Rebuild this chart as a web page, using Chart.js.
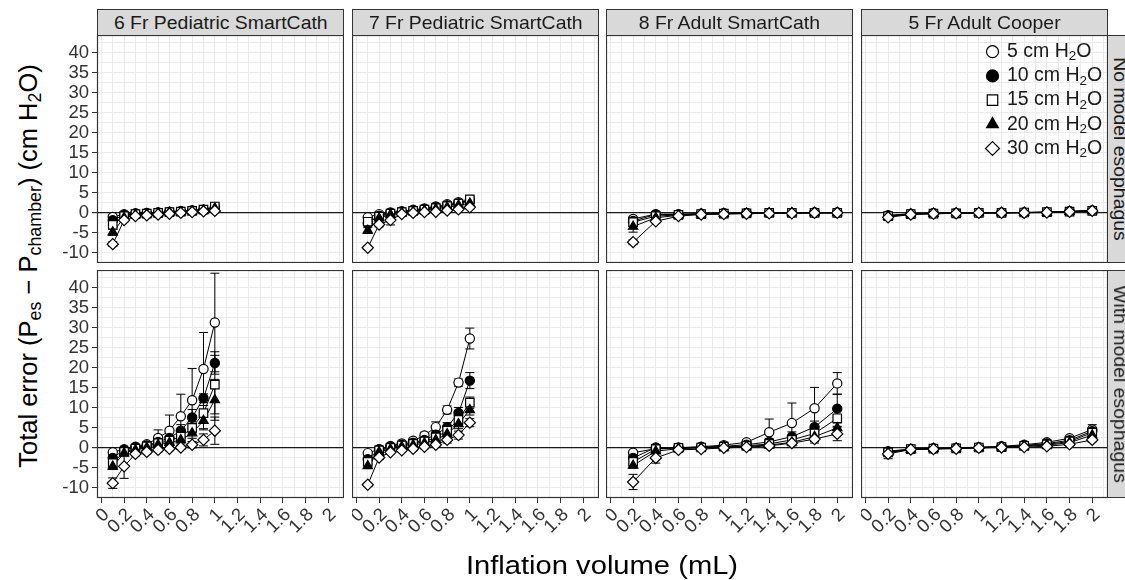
<!DOCTYPE html>
<html>
<head>
<meta charset="utf-8">
<script src="https://cdn.jsdelivr.net/npm/chart.js@4.4.1/dist/chart.umd.min.js"></script>
<style>
  body { margin: 0; width: 1125px; height: 580px; overflow: hidden; position: relative; background: #fff;
         font-family: "Liberation Sans", Arial, sans-serif; }
  canvas { position: absolute; }
  .strip { position: absolute; background: #d9d9d9; border: 1px solid #333; box-sizing: border-box;
           color: #1a1a1a; font-size: 18.5px; display: flex; align-items: center; justify-content: center;
           white-space: nowrap; }
  .strip span { display: inline-block; transform: scaleX(1.05); }
  .strip.side span { transform: rotate(90deg) scaleX(1.05); }
  .title { position: absolute; white-space: nowrap; color: #000; }
  sub { font-size: 0.7em; vertical-align: -0.25em; line-height: 0; }
</style>
</head>
<body>
<script>
// facet labels
var colLabels = ['6 Fr Pediatric SmartCath', '7 Fr Pediatric SmartCath', '8 Fr Adult SmartCath', '5 Fr Adult Cooper']
var rowLabels = ['No model esophagus', 'With model esophagus']
var pressures = ['5', '10', '15', '20', '30']   // cm H2O

// inflation volumes (mL)
var volPed = [0.1, 0.2, 0.3, 0.4, 0.5, 0.6, 0.7, 0.8, 0.9, 1.0]
var volAdult = [0.2, 0.4, 0.6, 0.8, 1.0, 1.2, 1.4, 1.6, 1.8, 2.0]

// axis breaks
var xBreaks = [0, 0.2, 0.4, 0.6, 0.8, 1, 1.2, 1.4, 1.6, 1.8, 2]
var yBreaks = [-10, -5, 0, 5, 10, 15, 20, 25, 30, 35, 40]

// mean total error, one row per pressure (5, 10, 15, 20, 30)
var ped6None = [
  [-1.0, -0.3, -0.1, 0.0, 0.1, 0.3, 0.4, 0.6, 0.8, 1.2],
  [-1.8, -0.5, -0.2, -0.1, 0.1, 0.2, 0.4, 0.6, 0.8, 1.4],
  [-3.0, -0.8, -0.3, -0.2, 0.0, 0.2, 0.3, 0.5, 0.8, 1.6],
  [-4.8, -1.2, -0.5, -0.3, -0.1, 0.1, 0.2, 0.4, 0.6, 1.2],
  [-7.8, -1.8, -0.8, -0.6, -0.4, -0.2, 0.0, 0.2, 0.4, 0.5]]
var ped7None = [
  [-1.1, -0.3, 0.1, 0.4, 0.8, 1.1, 1.6, 2.2, 2.7, 3.2],
  [-2.6, -0.7, 0.0, 0.3, 0.6, 1.0, 1.4, 1.9, 2.4, 2.9],
  [-2.2, -0.9, -0.2, 0.2, 0.5, 0.8, 1.2, 1.7, 2.3, 3.4],
  [-4.4, -1.3, -0.4, 0.0, 0.3, 0.6, 1.0, 1.4, 1.9, 2.4],
  [-8.7, -2.9, -1.8, -0.3, 0.0, 0.2, 0.3, 0.6, 0.9, 1.4]]
var adult8None = [
  [-1.5, -0.3, -0.3, -0.2, -0.1, 0.0, 0.0, 0.0, 0.1, 0.1],
  [-2.0, -0.4, -0.4, -0.2, -0.1, 0.0, 0.0, 0.0, 0.1, 0.1],
  [-2.3, -0.8, -0.5, -0.3, -0.2, -0.1, 0.0, 0.0, 0.0, 0.0],
  [-3.4, -1.2, -0.6, -0.3, -0.2, -0.1, -0.1, 0.0, 0.0, 0.0],
  [-7.3, -2.1, -0.8, -0.4, -0.3, -0.2, -0.1, -0.1, 0.0, 0.0]]
var cooperNone = [
  [-0.6, -0.2, -0.1, 0.0, 0.0, 0.1, 0.1, 0.2, 0.4, 0.6],
  [-0.7, -0.3, -0.1, -0.1, 0.0, 0.0, 0.1, 0.2, 0.4, 0.6],
  [-0.8, -0.3, -0.2, -0.1, 0.0, 0.0, 0.1, 0.2, 0.3, 0.5],
  [-0.9, -0.3, -0.2, -0.1, 0.0, 0.0, 0.1, 0.1, 0.3, 0.5],
  [-1.1, -0.4, -0.2, -0.1, 0.0, 0.0, 0.0, 0.1, 0.3, 0.5]]
var ped6With = [
  [-1.1, -0.3, 0.3, 0.9, 2.5, 4.3, 7.9, 11.9, 19.7, 31.3],
  [-2.5, -0.5, 0.1, 0.6, 1.5, 2.5, 4.3, 7.6, 12.4, 21.2],
  [-3.8, -1.0, -0.2, 0.4, 1.2, 1.8, 2.8, 5.0, 8.7, 15.8],
  [-4.6, -1.3, -0.5, 0.1, 0.8, 1.3, 2.0, 3.7, 6.8, 12.0],
  [-8.8, -4.6, -1.5, -1.0, -0.5, -0.2, 0.1, 0.8, 2.0, 4.3]]
var ped7With = [
  [-1.3, -0.3, 0.5, 1.1, 1.8, 3.1, 5.2, 9.5, 16.3, 27.3],
  [-2.8, -0.4, 0.3, 0.8, 1.3, 2.0, 3.3, 5.2, 8.7, 16.8],
  [-3.5, -0.6, 0.0, 0.6, 1.0, 1.6, 2.6, 4.3, 7.0, 11.3],
  [-4.5, -1.0, -0.3, 0.3, 0.7, 1.2, 2.0, 3.5, 6.0, 9.5],
  [-9.2, -2.4, -1.1, -0.6, -0.2, 0.3, 0.8, 2.0, 3.2, 6.3]]
var adult8With = [
  [-1.2, -0.2, 0.0, 0.3, 0.7, 1.4, 3.9, 6.2, 9.9, 16.1],
  [-2.5, 0.1, 0.1, 0.2, 0.4, 0.8, 1.5, 2.8, 5.2, 9.8],
  [-3.5, -0.3, 0.0, 0.1, 0.3, 0.5, 1.0, 2.0, 3.6, 7.4],
  [-4.4, -0.8, -0.2, 0.0, 0.2, 0.4, 0.7, 1.4, 2.8, 5.0],
  [-8.5, -2.5, -0.5, -0.3, 0.0, 0.2, 0.5, 1.2, 2.2, 3.5]]
var cooperWith = [
  [-0.8, -0.3, -0.1, 0.0, 0.2, 0.4, 0.8, 1.4, 2.4, 4.6],
  [-1.0, -0.3, -0.2, 0.0, 0.1, 0.3, 0.6, 1.1, 1.9, 4.2],
  [-1.1, -0.3, -0.2, -0.1, 0.1, 0.2, 0.5, 0.9, 1.6, 3.8],
  [-1.2, -0.4, -0.2, -0.1, 0.0, 0.2, 0.4, 0.7, 1.3, 3.2],
  [-1.5, -0.4, -0.3, -0.2, 0.0, 0.1, 0.2, 0.4, 0.9, 2.0]]

// standard deviations, same layout
var ped6NoneSd = [
  [0.4, 0.2, 0.2, 0.2, 0.2, 0.2, 0.2, 0.3, 0.3, 0.5],
  [0.5, 0.3, 0.2, 0.2, 0.2, 0.2, 0.2, 0.3, 0.3, 0.6],
  [0.6, 0.3, 0.2, 0.2, 0.2, 0.2, 0.2, 0.3, 0.3, 0.5],
  [0.8, 0.4, 0.2, 0.2, 0.2, 0.2, 0.2, 0.3, 0.3, 0.5],
  [0.6, 0.4, 0.2, 0.2, 0.2, 0.2, 0.2, 0.2, 0.3, 0.4]]
var ped7NoneSd = [
  [0.4, 0.3, 0.3, 0.2, 0.2, 0.3, 0.3, 0.3, 0.4, 0.5],
  [0.5, 0.4, 0.3, 0.2, 0.2, 0.3, 0.3, 0.3, 0.4, 0.5],
  [0.6, 0.4, 0.3, 0.2, 0.2, 0.3, 0.3, 0.3, 0.4, 0.6],
  [0.7, 0.5, 0.3, 0.2, 0.2, 0.3, 0.3, 0.3, 0.4, 0.5],
  [0.4, 0.6, 1.2, 0.3, 0.2, 0.2, 0.3, 0.3, 0.3, 0.4]]
var adult8NoneSd = [
  [0.5, 0.3, 0.2, 0.2, 0.2, 0.2, 0.2, 0.2, 0.2, 0.2],
  [0.6, 0.3, 0.2, 0.2, 0.2, 0.2, 0.2, 0.2, 0.2, 0.2],
  [0.8, 0.3, 0.2, 0.2, 0.2, 0.2, 0.2, 0.2, 0.2, 0.2],
  [1.4, 0.4, 0.2, 0.2, 0.2, 0.2, 0.2, 0.2, 0.2, 0.2],
  [0.6, 0.4, 0.2, 0.2, 0.2, 0.2, 0.2, 0.2, 0.2, 0.2]]
var cooperNoneSd = [
  [0.3, 0.2, 0.2, 0.2, 0.2, 0.2, 0.2, 0.2, 0.2, 0.3],
  [0.3, 0.2, 0.2, 0.2, 0.2, 0.2, 0.2, 0.2, 0.2, 0.3],
  [0.3, 0.2, 0.2, 0.2, 0.2, 0.2, 0.2, 0.2, 0.2, 0.3],
  [0.3, 0.2, 0.2, 0.2, 0.2, 0.2, 0.2, 0.2, 0.2, 0.3],
  [0.4, 0.2, 0.2, 0.2, 0.2, 0.2, 0.2, 0.2, 0.2, 0.3]]
var ped6WithSd = [
  [0.5, 0.4, 0.4, 0.5, 2.0, 3.9, 5.5, 7.9, 9.1, 12.3],
  [0.8, 0.5, 0.4, 0.5, 0.8, 1.2, 1.5, 2.0, 1.1, 2.8],
  [1.0, 0.6, 0.5, 0.5, 0.7, 1.0, 1.2, 1.5, 4.2, 7.3],
  [0.8, 0.6, 0.5, 0.5, 0.6, 0.8, 1.0, 1.3, 2.0, 5.1],
  [1.3, 3.0, 0.5, 0.5, 0.5, 0.5, 0.5, 0.8, 1.5, 3.4]]
var ped7WithSd = [
  [0.4, 0.3, 0.3, 0.4, 0.5, 0.8, 1.3, 1.0, 0.9, 2.6],
  [0.5, 0.4, 0.3, 0.4, 0.5, 0.7, 0.9, 1.1, 1.4, 2.0],
  [0.6, 0.4, 0.3, 0.4, 0.5, 0.6, 0.8, 1.0, 1.1, 1.4],
  [0.6, 0.4, 0.4, 0.4, 0.5, 0.6, 0.8, 1.0, 1.2, 1.3],
  [0.4, 0.5, 0.4, 0.4, 0.5, 0.5, 0.6, 0.8, 1.0, 1.0]]
var adult8WithSd = [
  [0.4, 0.3, 0.2, 0.3, 0.4, 0.6, 3.3, 5.0, 5.2, 2.7],
  [0.5, 0.3, 0.2, 0.3, 0.4, 0.5, 0.8, 1.2, 1.5, 3.6],
  [0.6, 0.4, 0.3, 0.3, 0.3, 0.5, 0.7, 1.0, 1.4, 2.0],
  [0.6, 0.5, 0.3, 0.3, 0.3, 0.4, 0.6, 0.8, 1.2, 1.5],
  [1.9, 1.3, 0.4, 0.3, 0.3, 0.4, 0.5, 0.7, 1.0, 1.7]]
var cooperWithSd = [
  [0.3, 0.2, 0.2, 0.2, 0.2, 0.2, 0.3, 0.4, 0.5, 1.2],
  [0.4, 0.2, 0.2, 0.2, 0.2, 0.2, 0.3, 0.4, 0.5, 0.8],
  [0.4, 0.2, 0.2, 0.2, 0.2, 0.2, 0.3, 0.3, 0.4, 0.6],
  [0.5, 0.2, 0.2, 0.2, 0.2, 0.2, 0.2, 0.3, 0.4, 0.5],
  [1.2, 0.3, 0.2, 0.2, 0.2, 0.2, 0.2, 0.3, 0.4, 0.5]]

// marker per pressure
var shapes = ['circle', 'circle', 'rect', 'triangle', 'rectRot']
var fills = ['#fff', '#000', '#fff', '#000', '#fff']
var radii = [4.6, 4.6, 6, 5.4, 5.6]
var legendRadii = [6, 6, 7.4, 6.8, 7]

// page layout (px)
var colLeft = [97, 352, 606, 861]
var rowTop = [35, 270]
var panelW = 247
var panelH = 228
var xMin = -0.039, xMax = 2.139
var yMin = -12.5, yMax = 44.4
var capHalf = 0.04
var tickFont = { family: 'Liberation Sans', size: 18.5 }

// minor breaks half way between majors, like ggplot
function withMinors(breaks, lo, hi) {
  var out = []
  var half = (breaks[1] - breaks[0]) / 2
  breaks.forEach(function(b) {
    if (b - half > lo) out.push(+(b - half).toFixed(3))
    out.push(b)
    if (b + half < hi) out.push(+(b + half).toFixed(3))
  })
  return out.filter(function(v, i) { return out.indexOf(v) === i }).sort(function(a, b) { return a - b })
}
var xGrid = withMinors(xBreaks, xMin, xMax)
var yGrid = withMinors(yBreaks, yMin, yMax)

function isBreak(list, v) {
  return list.some(function(b) { return Math.abs(b - v) < 1e-6 })
}

// error bars, drawn under lines and points
var errorBars = {
  id: 'errorBars',
  beforeDatasetsDraw: function(chart) {
    var p = chart.canvas.$panel
    var ctx = chart.ctx, xs = chart.scales.x, ys = chart.scales.y, a = chart.chartArea
    ctx.save()
    ctx.beginPath(); ctx.rect(a.left, a.top, a.right - a.left, a.bottom - a.top); ctx.clip()
    ctx.strokeStyle = '#000'
    ctx.lineWidth = 1
    p.means.forEach(function(row, i) {
      row.forEach(function(m, j) {
        var sd = p.sds[i][j], v = p.vols[j]
        var px = xs.getPixelForValue(v)
        var x0 = xs.getPixelForValue(v - capHalf), x1 = xs.getPixelForValue(v + capHalf)
        var yt = ys.getPixelForValue(m + sd), yb = ys.getPixelForValue(m - sd)
        ctx.beginPath()
        ctx.moveTo(px, yt); ctx.lineTo(px, yb)
        ctx.moveTo(x0, yt); ctx.lineTo(x1, yt)
        ctx.moveTo(x0, yb); ctx.lineTo(x1, yb)
        ctx.stroke()
      })
    })
    ctx.restore()
  }
}

// panel frame
var panelBorder = {
  id: 'panelBorder',
  afterDraw: function(chart) {
    var a = chart.chartArea, ctx = chart.ctx
    ctx.save()
    ctx.strokeStyle = '#333'
    ctx.lineWidth = 1.2
    ctx.strokeRect(a.left + 0.5, a.top + 0.5, a.right - a.left - 1, a.bottom - a.top - 1)
    ctx.restore()
  }
}

// legend inside the top right panel
var pressureLegend = {
  id: 'pressureLegend',
  afterDatasetsDraw: function(chart) {
    if (!chart.canvas.$panel.legend) return
    var ctx = chart.ctx, a = chart.chartArea
    ctx.save()
    pressures.forEach(function(p, i) {
      var cy = a.top + 16.7 + i * 24.2
      var cx = a.left + 131.5
      ctx.fillStyle = fills[i]
      ctx.strokeStyle = '#000'
      ctx.lineWidth = 1.2
      Chart.helpers.drawPoint(ctx, { pointStyle: shapes[i], radius: legendRadii[i], borderWidth: 1.2, rotation: 0 }, cx, cy)
      ctx.fillStyle = '#1a1a1a'
      ctx.textBaseline = 'middle'
      var tx = a.left + 146
      ctx.font = '19.5px "Liberation Sans"'
      var s = p + ' cm H'
      ctx.fillText(s, tx, cy); tx += ctx.measureText(s).width
      ctx.font = '13.5px "Liberation Sans"'
      ctx.fillText('2', tx, cy + 5); tx += ctx.measureText('2').width
      ctx.font = '19.5px "Liberation Sans"'
      ctx.fillText('O', tx, cy)
    })
    ctx.restore()
  }
}

function makePanel(col, row, vols, means, sds) {
  var padL = col === 0 ? 50 : 0
  var padB = row === 1 ? 75 : 0
  var cv = document.createElement('canvas')
  cv.width = panelW + padL
  cv.height = panelH + padB
  cv.style.left = (colLeft[col] - padL) + 'px'
  cv.style.top = rowTop[row] + 'px'
  cv.$panel = { vols: vols, means: means, sds: sds, legend: col === 3 && row === 0 }
  document.body.appendChild(cv)

  var datasets = []
  means.forEach(function(m, i) {
    datasets.push({
      label: pressures[i] + ' line',
      data: vols.map(function(v, j) { return { x: v, y: m[j] } }),
      showLine: true, borderColor: '#000', borderWidth: 1, pointRadius: 0, order: 10 + i
    })
  })
  means.forEach(function(m, i) {
    datasets.push({
      label: pressures[i] + ' cm H2O',
      data: vols.map(function(v, j) { return { x: v, y: m[j] } }),
      showLine: false, pointStyle: shapes[i], pointRadius: radii[i],
      pointBackgroundColor: fills[i], pointBorderColor: '#000', pointBorderWidth: 1.2,
      order: 4 - i
    })
  })

  return new Chart(cv.getContext('2d'), {
    type: 'scatter',
    data: { datasets: datasets },
    options: {
      responsive: false, animation: false, devicePixelRatio: 1, events: [],
      layout: { padding: 0, autoPadding: false },
      plugins: { legend: { display: false }, tooltip: { enabled: false } },
      scales: {
        x: {
          type: 'linear', min: xMin, max: xMax, bounds: 'data', z: -1,
          afterBuildTicks: function(s) { s.ticks = xGrid.map(function(v) { return { value: v } }) },
          afterFit: function(s) { s.height = padB; s.paddingLeft = 0; s.paddingRight = 0 },
          ticks: {
            display: row === 1, autoSkip: false, minRotation: 45, maxRotation: 45,
            font: tickFont, color: '#333', padding: 1, labelOffset: 5,
            callback: function(v) { return isBreak(xBreaks, v) ? String(Math.round(v * 10) / 10) : '' }
          },
          grid: {
            color: '#ebebeb', lineWidth: 1, drawTicks: row === 1, tickLength: 5,
            tickColor: function(c) { return c.tick && isBreak(xBreaks, c.tick.value) ? '#333' : 'rgba(0,0,0,0)' }
          },
          border: { display: false }
        },
        y: {
          type: 'linear', min: yMin, max: yMax, bounds: 'data',
          afterBuildTicks: function(s) { s.ticks = yGrid.map(function(v) { return { value: v } }) },
          afterFit: function(s) { s.width = padL; s.paddingTop = 0; s.paddingBottom = 0 },
          ticks: {
            display: col === 0, autoSkip: false, font: tickFont, color: '#333', padding: 3,
            callback: function(v) { return isBreak(yBreaks, v) ? String(v) : '' }
          },
          grid: {
            color: function(c) { return c.tick && c.tick.value === 0 ? '#1a1a1a' : '#ebebeb' },
            lineWidth: function(c) { return c.tick && c.tick.value === 0 ? 1.2 : 1 },
            drawTicks: col === 0, tickLength: 5,
            tickColor: function(c) { return c.tick && isBreak(yBreaks, c.tick.value) ? '#333' : 'rgba(0,0,0,0)' }
          },
          border: { display: false }
        }
      }
    },
    plugins: [errorBars, pressureLegend, panelBorder]
  })
}

var panels = [
  [0, 0, volPed, ped6None, ped6NoneSd],
  [1, 0, volPed, ped7None, ped7NoneSd],
  [2, 0, volAdult, adult8None, adult8NoneSd],
  [3, 0, volAdult, cooperNone, cooperNoneSd],
  [0, 1, volPed, ped6With, ped6WithSd],
  [1, 1, volPed, ped7With, ped7WithSd],
  [2, 1, volAdult, adult8With, adult8WithSd],
  [3, 1, volAdult, cooperWith, cooperWithSd]
]
panels.forEach(function(p) { makePanel(p[0], p[1], p[2], p[3], p[4]) })

// strips
colLabels.forEach(function(t, c) {
  var d = document.createElement('div')
  d.className = 'strip'
  d.style.cssText = 'left:' + colLeft[c] + 'px;top:9px;width:' + panelW + 'px;height:27px'
  var s = document.createElement('span')
  s.textContent = t
  d.appendChild(s)
  document.body.appendChild(d)
})
rowLabels.forEach(function(t, r) {
  var d = document.createElement('div')
  d.className = 'strip side'
  d.style.cssText = 'left:1107px;top:' + rowTop[r] + 'px;width:27px;height:' + panelH + 'px'
  var s = document.createElement('span')
  s.textContent = t
  d.appendChild(s)
  document.body.appendChild(d)
})

// axis titles
var xt = document.createElement('div')
xt.className = 'title'
xt.innerHTML = 'Inflation volume (mL)'
xt.style.cssText = 'left:602px;top:565px;font-size:26.5px;transform:translate(-50%,-50%) scaleX(1.1)'
document.body.appendChild(xt)
var yt = document.createElement('div')
yt.className = 'title'
yt.innerHTML = 'Total error (P<sub>es</sub> \u2212 P<sub>chamber</sub>) (cm H<sub>2</sub>O)'
yt.style.cssText = 'left:28px;top:266px;font-size:25.5px;transform:translate(-50%,-50%) rotate(-90deg)'
document.body.appendChild(yt)
</script>
</body>
</html>
